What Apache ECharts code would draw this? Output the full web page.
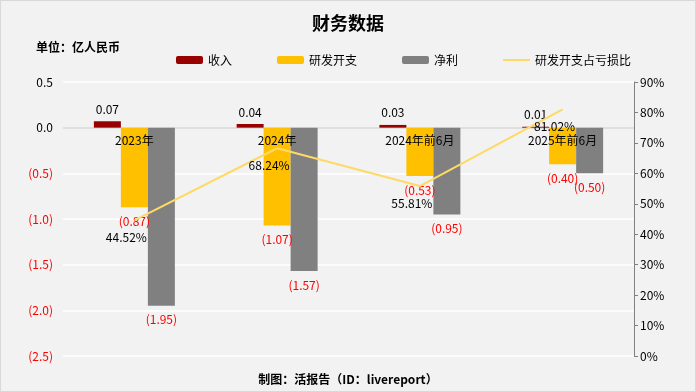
<!DOCTYPE html>
<html><head><meta charset="utf-8">
<script src="https://cdn.jsdelivr.net/npm/echarts@6/dist/echarts.min.js"></script>
<style>html,body{margin:0;padding:0;background:#f2f2f2;}#c{width:694px;height:390px;border:1px solid #d9d9d9;}</style>
</head><body><div id="c"></div>
<script>
const categories = ['2023年','2024年','2024年前6月','2025年前6月'];
const revenue = [0.07, 0.04, 0.03, 0.01];
const rdExpense = [-0.87, -1.07, -0.53, -0.40];
const netProfit = [-1.95, -1.57, -0.95, -0.50];
const rdRatio = [44.52, 68.24, 55.81, 81.02];

const FONT = '"Noto Sans CJK SC", "Microsoft YaHei", sans-serif';
function fmtNum(v, d){ return v < 0 ? '(' + Math.abs(v).toFixed(d) + ')' : v.toFixed(d); }
const negLabel = {show:true, position:'bottom', distance:8, color:'#ff0000', fontSize:12, fontFamily:FONT, formatter:p=>fmtNum(p.value,2)};

const chart = echarts.init(document.getElementById('c'));
chart.setOption({
  backgroundColor:'#f2f2f2',
  textStyle:{fontFamily:FONT},
  title:[
    {text:'财务数据', left:'center', top:8, textStyle:{fontSize:18, fontWeight:'bold', color:'#000', fontFamily:FONT}},
    {text:'单位：亿人民币', left:30, top:35, textStyle:{fontSize:12, fontWeight:'bold', color:'#000', fontFamily:FONT}},
    {text:'制图：活报告（ID：livereport）', left:'center', top:367, textStyle:{fontSize:12, fontWeight:'bold', color:'#000', fontFamily:FONT}}
  ],
  legend:{top:48, left:170, itemWidth:27, itemHeight:8, itemGap:45, textStyle:{fontSize:12, color:'#000', fontFamily:FONT},
    data:[{name:'收入'},{name:'研发开支'},{name:'净利'},{name:'研发开支占亏损比', icon:'path://M0 3 L27 3 L27 5 L0 5 Z', itemStyle:{color:'#ffd966', opacity:1}}]},
  grid:{left:62, right:61, top:81, bottom:35},
  xAxis:{type:'category', data:categories, offset:-230, z:10,
    axisLine:{show:false, onZero:false}, axisTick:{show:false},
    axisLabel:{color:'#000', fontSize:12, margin:8, fontFamily:FONT}},
  yAxis:[
    {type:'value', min:-2.5, max:0.5, interval:0.5,
     axisLine:{show:false}, axisTick:{show:false},
     splitLine:{lineStyle:{color:['#ffffff','#ffffff','#ffffff','#ffffff','#ffffff','#d9d9d9','#ffffff'], width:1.5}},
     axisLabel:{fontSize:12, margin:10, fontFamily:FONT, formatter:v=>fmtNum(v,1), color:v=>(v<0?'#ff0000':'#000')}},
    {type:'value', min:0, max:90, interval:10,
     axisLine:{show:true, lineStyle:{color:'#808080'}}, axisTick:{show:true, length:4, lineStyle:{color:'#808080'}},
     splitLine:{show:false},
     axisLabel:{color:'#000', fontSize:12, margin:6, fontFamily:FONT, formatter:'{value}%'}}
  ],
  series:[
    {name:'收入', type:'bar', data:revenue, barWidth:27, barGap:'0%', itemStyle:{color:'#990000'},
     label:{show:true, position:'top', distance:6, color:'#000', fontSize:12, fontFamily:FONT, formatter:p=>fmtNum(p.value,2)}},
    {name:'研发开支', type:'bar', data:rdExpense, barWidth:27, barGap:'0%', itemStyle:{color:'#ffc000'}, label:negLabel},
    {name:'净利', type:'bar', data:netProfit, barWidth:27, barGap:'0%', itemStyle:{color:'#808080'}, label:negLabel},
    {name:'研发开支占亏损比', type:'line', yAxisIndex:1, data:rdRatio, symbol:'circle', symbolSize:2, showSymbol:true, z:5,
     lineStyle:{color:'#ffd966', width:2}, itemStyle:{color:'rgba(255,217,102,0)', borderWidth:0},
     label:{show:true, position:'bottom', distance:6, offset:[-8,4], color:'#000', fontSize:12, fontFamily:FONT, formatter:p=>p.value.toFixed(2)+'%'}}
  ]
});
</script></body></html>
